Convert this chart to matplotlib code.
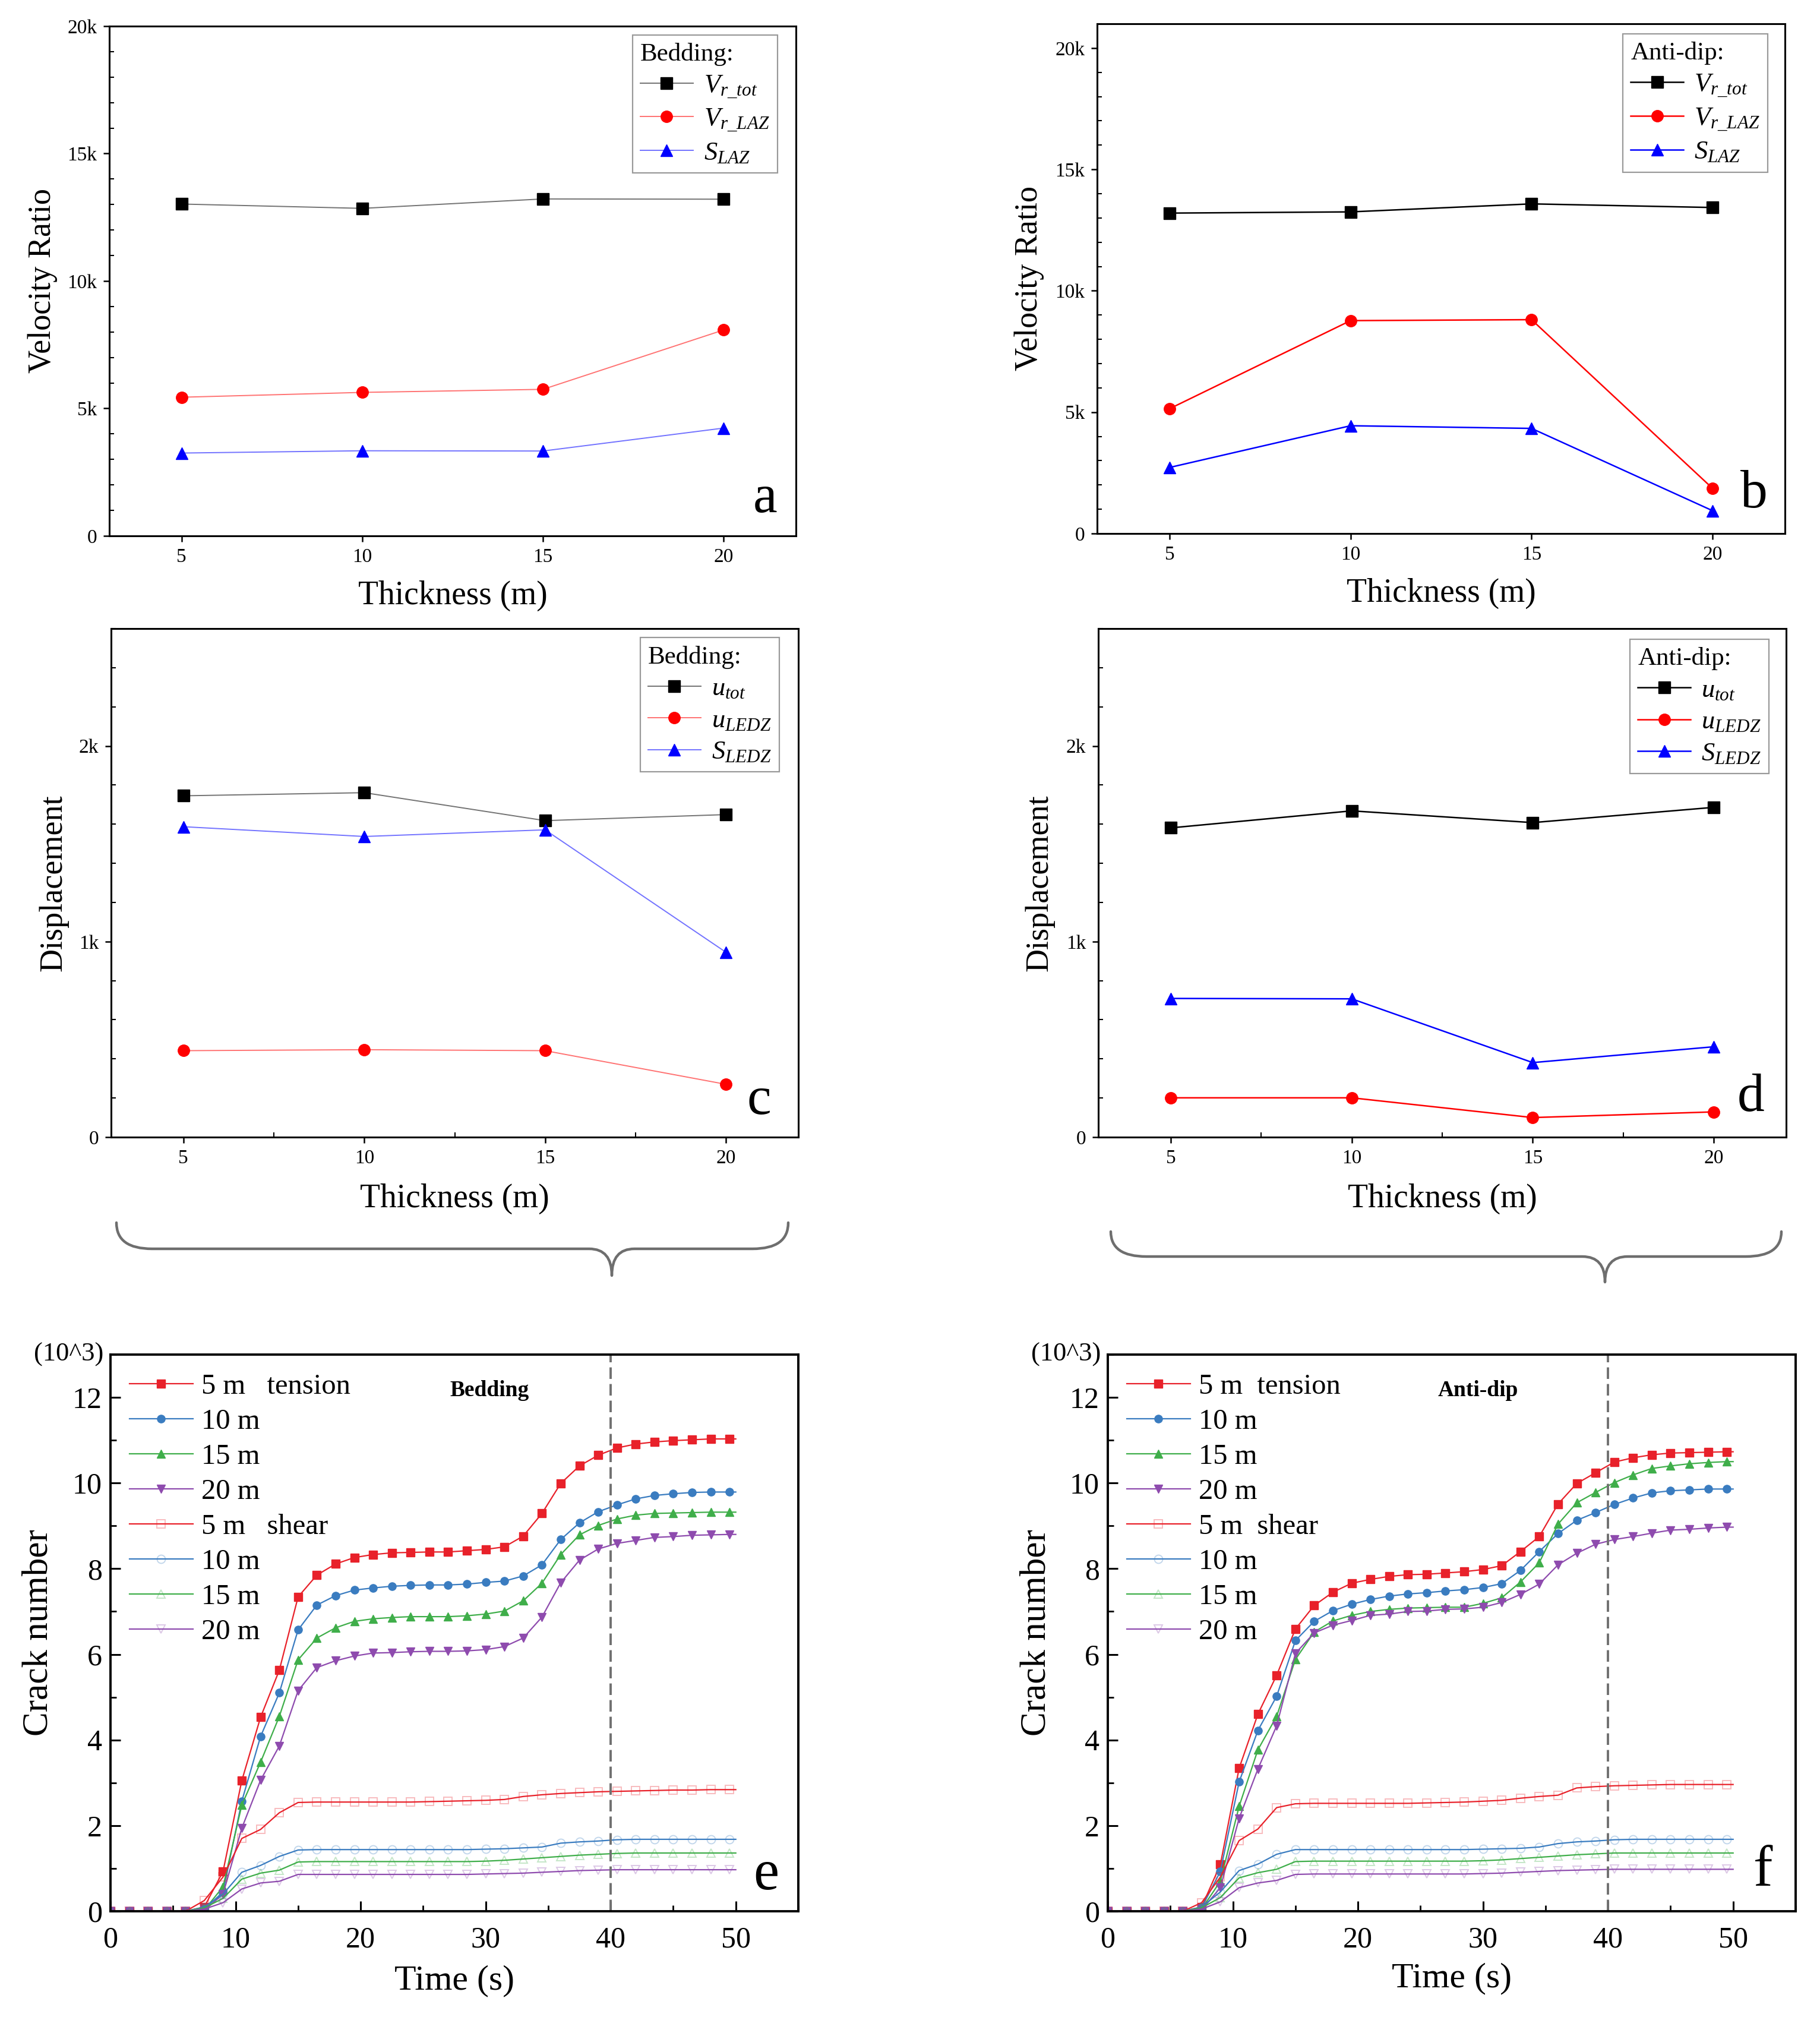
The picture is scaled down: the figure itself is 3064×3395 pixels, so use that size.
import numpy as np
import matplotlib
matplotlib.use("Agg")
import matplotlib.pyplot as plt
from matplotlib.ticker import MultipleLocator, FuncFormatter
from matplotlib.path import Path
from matplotlib.patches import PathPatch
from matplotlib.colors import to_rgba

plt.rcParams['font.family'] = ['Liberation Serif', 'DejaVu Serif']
plt.rcParams['mathtext.fontset'] = 'custom'
plt.rcParams['mathtext.rm'] = 'Liberation Serif'
plt.rcParams['mathtext.it'] = 'Liberation Serif:italic'

W, H = 3064, 3395

# ---- panels a-d: thickness series ----
thickness = [5, 10, 15, 20]

vr_tot_bed = [13020, 12850, 13220, 13210]
vr_laz_bed = [5440, 5630, 5750, 8080]
s_laz_bed = [3250, 3340, 3330, 4230]

vr_tot_anti = [13200, 13250, 13580, 13430]
vr_laz_anti = [5140, 8770, 8810, 1860]
s_laz_anti = [2720, 4440, 4330, 940]

u_tot_bed = [1745, 1761, 1618, 1649]
u_ledz_bed = [442, 447, 442, 270]
s_ledz_bed = [1587, 1537, 1571, 945]

u_tot_anti = [1581, 1668, 1608, 1686]
u_ledz_anti = [201, 201, 100, 129]
s_ledz_anti = [709, 707, 381, 462]

vel_labels = [r'$V_{r\_tot}$', r'$V_{r\_LAZ}$', r'$S_{LAZ}$']
disp_labels = [r'$u_{tot}$', r'$u_{LEDZ}$', r'$S_{LEDZ}$']

# ---- panels e-f: crack number (10^3) vs time ----
time_s = [0, 1.5, 3, 4.5, 6, 7.5, 9, 10.5, 12, 13.5, 15, 16.5, 18, 19.5, 21, 22.5,
          24, 25.5, 27, 28.5, 30, 31.5, 33, 34.5, 36, 37.5, 39, 40.5, 42, 43.5,
          45, 46.5, 48, 49.5, 50]

e_ten_5 = [0, 0, 0, 0, 0, 0.1, 0.93, 3.05, 4.53, 5.63, 7.34, 7.85, 8.11, 8.26, 8.33, 8.37,
           8.38, 8.39, 8.39, 8.42, 8.45, 8.51, 8.76, 9.29, 9.99, 10.40, 10.65, 10.82, 10.91,
           10.96, 10.99, 11.01, 11.03, 11.03, 11.03]
e_ten_10 = [0, 0, 0, 0, 0, 0.05, 0.45, 2.57, 4.08, 5.10, 6.57, 7.15, 7.37, 7.50, 7.55, 7.59,
            7.61, 7.62, 7.62, 7.64, 7.68, 7.71, 7.83, 8.09, 8.68, 9.07, 9.33, 9.49, 9.63,
            9.71, 9.75, 9.78, 9.79, 9.79, 9.79]
e_ten_15 = [0, 0, 0, 0, 0, 0.03, 0.57, 2.48, 3.48, 4.55, 5.87, 6.38, 6.62, 6.77, 6.83, 6.86,
            6.88, 6.88, 6.88, 6.90, 6.94, 7.01, 7.25, 7.66, 8.33, 8.79, 9.01, 9.16, 9.25,
            9.29, 9.30, 9.31, 9.32, 9.32, 9.32]
e_ten_20 = [0, 0, 0, 0, 0, 0.02, 0.40, 1.94, 3.06, 3.86, 5.15, 5.69, 5.85, 5.96, 6.03, 6.04,
            6.06, 6.07, 6.07, 6.08, 6.11, 6.18, 6.38, 6.87, 7.67, 8.20, 8.46, 8.59, 8.66,
            8.73, 8.75, 8.78, 8.79, 8.80, 8.80]
e_sh_5 = [0, 0, 0, 0, 0, 0.25, 0.8, 1.7, 1.91, 2.30, 2.54, 2.55, 2.55, 2.55, 2.55, 2.55,
          2.55, 2.56, 2.57, 2.58, 2.59, 2.61, 2.68, 2.72, 2.75, 2.77, 2.79, 2.80, 2.81,
          2.82, 2.83, 2.83, 2.84, 2.84, 2.84]
e_sh_10 = [0, 0, 0, 0, 0, 0.1, 0.4, 0.91, 1.07, 1.28, 1.43, 1.44, 1.44, 1.44, 1.44, 1.44,
           1.44, 1.44, 1.44, 1.44, 1.45, 1.46, 1.48, 1.50, 1.59, 1.62, 1.64, 1.67, 1.68,
           1.68, 1.68, 1.68, 1.68, 1.68, 1.68]
e_sh_15 = [0, 0, 0, 0, 0, 0.08, 0.3, 0.75, 0.89, 0.96, 1.15, 1.16, 1.16, 1.16, 1.16, 1.16,
           1.16, 1.16, 1.16, 1.16, 1.17, 1.19, 1.22, 1.25, 1.28, 1.31, 1.33, 1.35, 1.36,
           1.36, 1.36, 1.36, 1.36, 1.36, 1.36]
e_sh_20 = [0, 0, 0, 0, 0, 0.05, 0.2, 0.52, 0.66, 0.70, 0.86, 0.86, 0.86, 0.86, 0.86, 0.86,
           0.86, 0.86, 0.86, 0.86, 0.87, 0.88, 0.89, 0.91, 0.93, 0.95, 0.96, 0.97, 0.97,
           0.97, 0.97, 0.97, 0.97, 0.97, 0.97]

f_ten_5 = [0, 0, 0, 0, 0, 0.1, 1.09, 3.34, 4.60, 5.51, 6.59, 7.14, 7.45, 7.66, 7.75, 7.82,
           7.86, 7.87, 7.90, 7.93, 7.98, 8.07, 8.40, 8.75, 9.51, 9.99, 10.24, 10.49, 10.59,
           10.66, 10.70, 10.71, 10.72, 10.73, 10.73]
f_ten_10 = [0, 0, 0, 0, 0, 0.08, 0.93, 3.02, 4.22, 5.02, 6.32, 6.77, 7.02, 7.17, 7.28, 7.36,
            7.41, 7.44, 7.48, 7.51, 7.56, 7.65, 7.96, 8.40, 8.82, 9.13, 9.31, 9.50, 9.65,
            9.77, 9.82, 9.84, 9.86, 9.86, 9.86]
f_ten_15 = [0, 0, 0, 0, 0, 0.05, 0.70, 2.45, 3.77, 4.55, 5.88, 6.52, 6.78, 6.91, 7.00, 7.05,
            7.08, 7.09, 7.10, 7.10, 7.19, 7.32, 7.69, 8.14, 9.04, 9.54, 9.78, 10.01, 10.19,
            10.34, 10.40, 10.45, 10.48, 10.50, 10.50]
f_ten_20 = [0, 0, 0, 0, 0, 0.03, 0.55, 2.17, 3.32, 4.33, 6.02, 6.50, 6.68, 6.79, 6.91, 6.94,
            7.00, 7.01, 7.05, 7.06, 7.10, 7.21, 7.40, 7.64, 8.09, 8.36, 8.57, 8.68, 8.75,
            8.83, 8.90, 8.92, 8.95, 8.97, 8.97]
f_sh_5 = [0, 0, 0, 0, 0, 0.2, 0.8, 1.65, 1.92, 2.42, 2.51, 2.52, 2.52, 2.52, 2.52, 2.52,
          2.52, 2.53, 2.54, 2.55, 2.57, 2.59, 2.64, 2.68, 2.71, 2.88, 2.91, 2.93, 2.94,
          2.95, 2.96, 2.96, 2.96, 2.96, 2.96]
f_sh_10 = [0, 0, 0, 0, 0, 0.1, 0.45, 0.95, 1.10, 1.33, 1.44, 1.44, 1.44, 1.44, 1.44, 1.44,
           1.44, 1.44, 1.44, 1.44, 1.45, 1.46, 1.47, 1.50, 1.58, 1.62, 1.64, 1.67, 1.68,
           1.68, 1.68, 1.68, 1.68, 1.68, 1.68]
f_sh_15 = [0, 0, 0, 0, 0, 0.08, 0.32, 0.78, 0.90, 0.98, 1.16, 1.17, 1.17, 1.17, 1.17, 1.17,
           1.17, 1.17, 1.17, 1.17, 1.18, 1.20, 1.23, 1.26, 1.29, 1.32, 1.34, 1.36, 1.36,
           1.36, 1.36, 1.36, 1.36, 1.36, 1.36]
f_sh_20 = [0, 0, 0, 0, 0, 0.05, 0.22, 0.55, 0.66, 0.72, 0.86, 0.87, 0.87, 0.87, 0.87, 0.87,
           0.87, 0.87, 0.87, 0.87, 0.88, 0.89, 0.91, 0.93, 0.95, 0.96, 0.97, 0.98, 0.98,
           0.98, 0.98, 0.98, 0.98, 0.98, 0.98]

crack_colors = ['#e8212a', '#3a7cc0', '#3fae4a', '#8e4bae']
ten_markers = ['s', 'o', '^', 'v']
sh_markers = ['s', 'o', '^', 'v']


def add_axes_px(fig, l, r, t, b):
    return fig.add_axes([l / W, 1 - b / H, (r - l) / W, (b - t) / H])


def k_fmt(v, p):
    return '0' if v == 0 else f'{int(round(v / 1000))}k'


def thickness_panel(ax, series, labels, title, ymax, minor_y, major_y, xminor,
                    ylabel, letter, leg_anchor, lw, line_alpha, ylab_x, xlab_y, let_xy):
    styles = [('black', 's'), ('#ff0000', 'o'), ('#0000ff', '^')]
    for y, lab, (c, m) in zip(series, labels, styles):
        ax.plot(thickness, y, color=to_rgba(c, line_alpha), marker=m, ms=14, lw=lw,
                mfc=c, mec=c, label=lab)
    ax.set_xlim(3, 22)
    ax.set_ylim(0, ymax)
    ax.set_xticks(thickness)
    ax.yaxis.set_major_locator(MultipleLocator(major_y))
    ax.yaxis.set_minor_locator(MultipleLocator(minor_y))
    if xminor:
        ax.xaxis.set_minor_locator(MultipleLocator(2.5))
    ax.yaxis.set_major_formatter(FuncFormatter(k_fmt))
    ax.tick_params(which='major', direction='out', length=7, width=1.8,
                   labelsize=24, pad=8)
    ax.tick_params(which='minor', direction='in', length=6, width=1.5)
    for sp in ax.spines.values():
        sp.set_linewidth(2.2)
    ax.set_ylabel(ylabel, fontsize=39)
    ax.set_xlabel('Thickness (m)', fontsize=40)
    ax.yaxis.set_label_coords(ylab_x, 0.5)
    ax.xaxis.set_label_coords(0.5, xlab_y)
    ax.xaxis.label.set_va('center')
    ax.yaxis.label.set_va('center')
    leg = ax.legend(title=title, loc='upper right', bbox_to_anchor=leg_anchor,
                    borderaxespad=0, frameon=True, fancybox=False, edgecolor='#808080',
                    fontsize=32, title_fontsize=31, alignment='left',
                    handlelength=2.0, handletextpad=0.4, labelspacing=0.3,
                    borderpad=0.3)
    leg.get_frame().set_linewidth(1.6)
    ax.text(let_xy[0], let_xy[1], letter, transform=ax.transAxes, fontsize=66,
            ha='center', va='center')


def crack_panel(ax, ten, sh, leg_labels, tag, tag_x, letter, let_xy, ylab_x, xlab_y):
    marks = list(range(len(time_s) - 1))
    for y, c, m, lab in zip(ten, crack_colors, ten_markers, leg_labels[:4]):
        ax.plot(time_s, y, color=c, lw=1.6, marker=m, ms=9.5, markevery=marks, label=lab)
    for y, c, m, lab in zip(sh, crack_colors, sh_markers, leg_labels[4:]):
        ax.plot(time_s, y, color=c, lw=1.6, marker=m, ms=10, markevery=marks,
                mfc='none', mec=to_rgba(c, 0.3), mew=1.4, label=lab)
    ax.axvline(40, color='#707070', lw=2.8, ls=(0, (5, 2.2)))
    ax.set_xlim(0, 55)
    ax.set_ylim(0, 13)
    ax.xaxis.set_major_locator(MultipleLocator(10))
    ax.xaxis.set_minor_locator(MultipleLocator(5))
    ax.yaxis.set_major_locator(MultipleLocator(2))
    ax.yaxis.set_minor_locator(MultipleLocator(1))
    ax.tick_params(which='major', direction='in', length=12, width=2.2, labelsize=36)
    ax.tick_params(axis='x', which='major', pad=18)
    ax.tick_params(axis='y', which='major', pad=10)
    ax.tick_params(which='minor', direction='in', length=7, width=2.0)
    for sp in ax.spines.values():
        sp.set_linewidth(2.8)
    ax.set_ylabel('Crack number', fontsize=44)
    ax.set_xlabel('Time (s)', fontsize=43)
    ax.yaxis.set_label_coords(ylab_x, 0.5)
    ax.xaxis.set_label_coords(0.5, xlab_y)
    ax.xaxis.label.set_va('center')
    ax.yaxis.label.set_va('center')
    ax.text(-0.01, 1.0, '(10^3)', transform=ax.transAxes, fontsize=32,
            ha='right', va='center')
    ax.text(tag_x, 12.16, tag, fontsize=27, fontweight='bold', ha='center', va='center')
    ax.legend(loc='upper left', frameon=False, fontsize=35, handlelength=2.2,
              handletextpad=0.3, labelspacing=0.31, borderaxespad=0.25)
    ax.text(let_xy[0], let_xy[1], letter, transform=ax.transAxes, fontsize=70,
            ha='center', va='center')


def brace(fig, x0, x1, xt, ytop, yh, ytip, r=60, r2=38):
    pts = [(x0, ytop), (x0, yh), (x0 + r, yh),
           (xt - r2, yh), (xt, yh), (xt, ytip),
           (xt, yh), (xt + r2, yh),
           (x1 - r, yh), (x1, yh), (x1, ytop)]
    codes = [Path.MOVETO, Path.CURVE3, Path.CURVE3,
             Path.LINETO, Path.CURVE3, Path.CURVE3,
             Path.CURVE3, Path.CURVE3,
             Path.LINETO, Path.CURVE3, Path.CURVE3]
    verts = [(x / W, 1 - y / H) for x, y in pts]
    fig.patches.append(PathPatch(Path(verts, codes), transform=fig.transFigure,
                                 fill=False, edgecolor='#6e6e6e', lw=3.2,
                                 capstyle='round', joinstyle='round'))


fig = plt.figure(figsize=(W / 100, H / 100), dpi=100)

ax_a = add_axes_px(fig, 184, 1340, 44, 902)
ax_b = add_axes_px(fig, 1847, 3005, 40, 898)
ax_c = add_axes_px(fig, 187, 1344, 1058, 1914)
ax_d = add_axes_px(fig, 1849, 3007, 1058, 1914)
ax_e = add_axes_px(fig, 186, 1344, 2280, 3217)
ax_f = add_axes_px(fig, 1865, 3023, 2280, 3217)

thickness_panel(ax_a, [vr_tot_bed, vr_laz_bed, s_laz_bed], vel_labels, 'Bedding:',
                20000, 1000, 5000, False, 'Velocity Ratio', 'a', (0.973, 0.983), 1.4, 0.55,
                -0.097, -0.118, (0.955, 0.072))
thickness_panel(ax_b, [vr_tot_anti, vr_laz_anti, s_laz_anti], vel_labels, 'Anti-dip:',
                21000, 1000, 5000, False, 'Velocity Ratio', 'b', (0.975, 0.980), 1.8, 1.0,
                -0.099, -0.118, (0.955, 0.077))
thickness_panel(ax_c, [u_tot_bed, u_ledz_bed, s_ledz_bed], disp_labels, 'Bedding:',
                2600, 200, 1000, True, 'Displacement', 'c', (0.972, 0.982), 1.4, 0.55,
                -0.084, -0.121, (0.943, 0.072))
thickness_panel(ax_d, [u_tot_anti, u_ledz_anti, s_ledz_anti], disp_labels, 'Anti-dip:',
                2600, 200, 1000, True, 'Displacement', 'd', (0.975, 0.979), 1.8, 1.0,
                -0.085, -0.121, (0.949, 0.077))

crack_panel(ax_e, [e_ten_5, e_ten_10, e_ten_15, e_ten_20],
            [e_sh_5, e_sh_10, e_sh_15, e_sh_20],
            ['5 m   tension', '10 m', '15 m', '20 m', '5 m   shear', '10 m', '15 m', '20 m'],
            'Bedding', 30.3, 'e', (0.953, 0.064), -0.105, -0.125)
crack_panel(ax_f, [f_ten_5, f_ten_10, f_ten_15, f_ten_20],
            [f_sh_5, f_sh_10, f_sh_15, f_sh_20],
            ['5 m  tension', '10 m', '15 m', '20 m', '5 m  shear', '10 m', '15 m', '20 m'],
            'Anti-dip', 29.6, 'f', (0.953, 0.071), -0.104, -0.121)

brace(fig, 196, 1327, 1030, 2058, 2102, 2147)
brace(fig, 1870, 2999, 2702, 2073, 2115, 2158)

fig.savefig('out.png', dpi=100)
